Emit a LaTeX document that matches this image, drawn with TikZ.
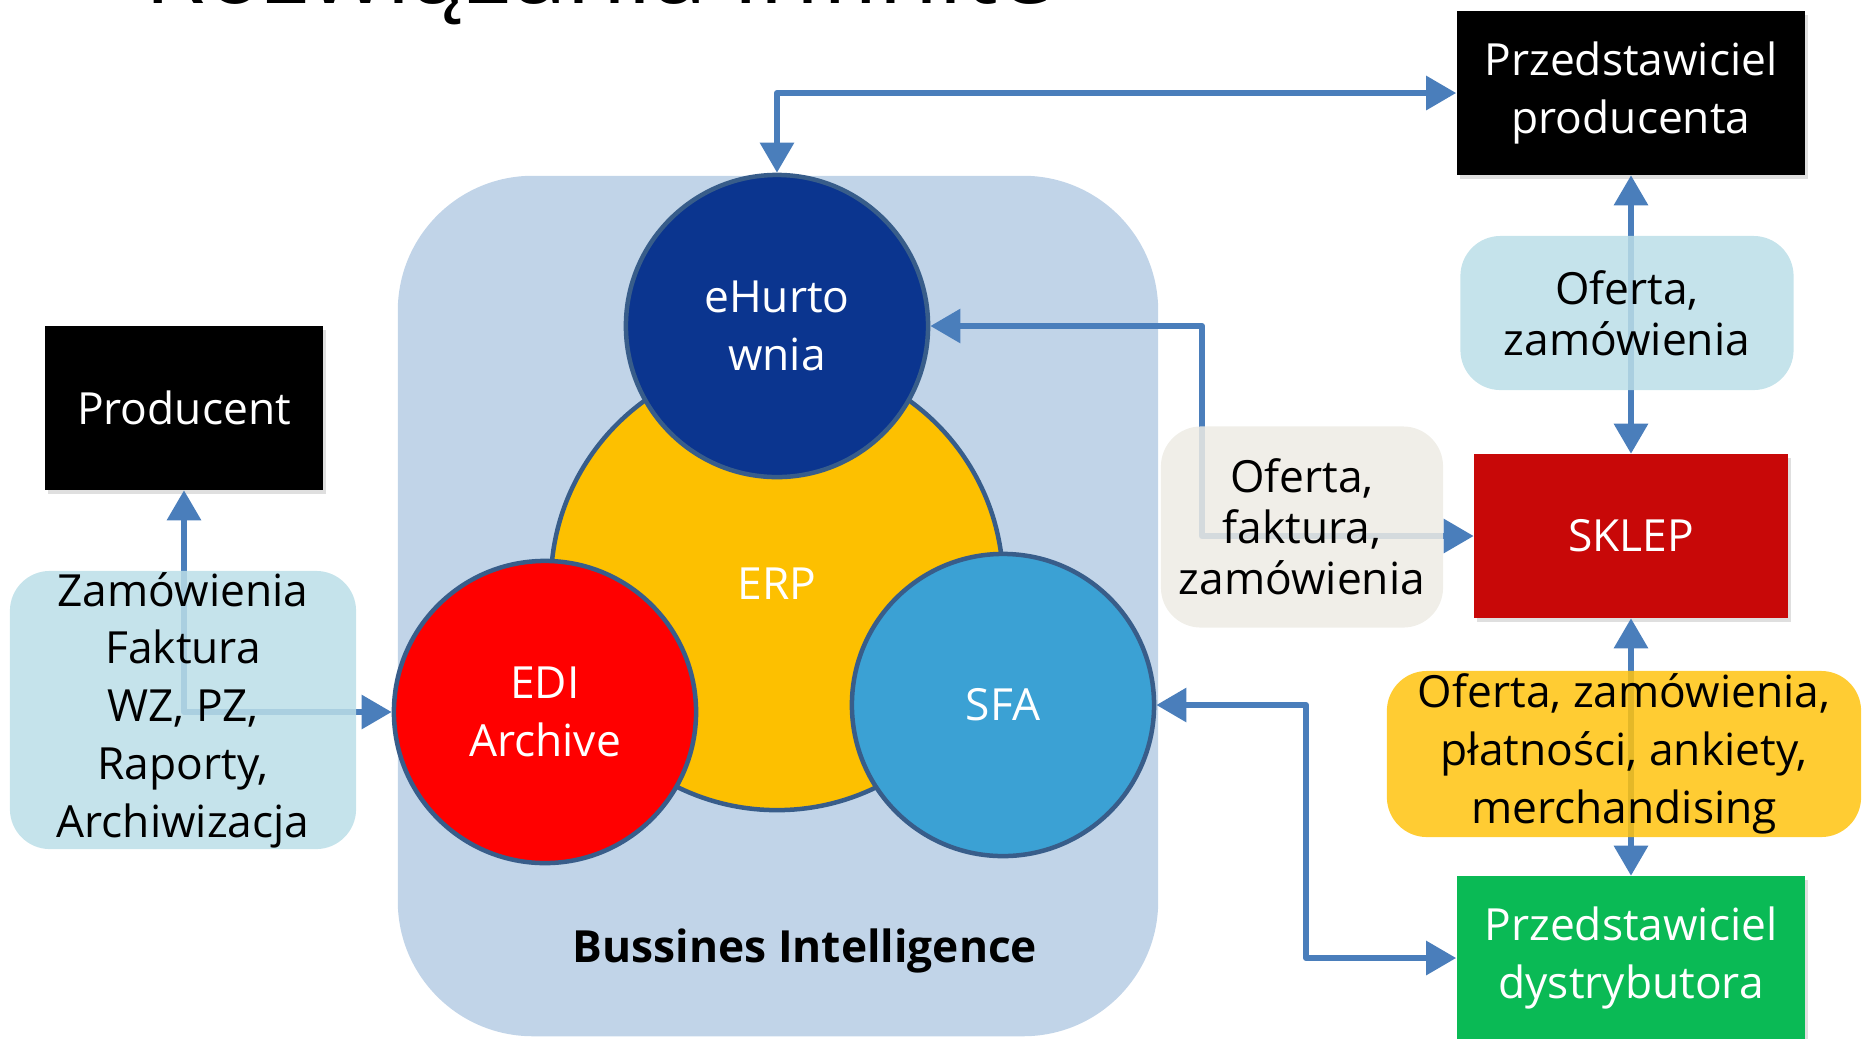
\documentclass[tikz,border=0pt]{standalone}
\usepackage{fontspec}
\setmainfont{Open Sans}
\usetikzlibrary{arrows.meta,shadows}

\definecolor{flowblue}{RGB}{74,126,187}
\definecolor{bifill}{RGB}{193,212,232}
\definecolor{ringblue}{RGB}{56,93,138}
\definecolor{ehurtblue}{RGB}{11,53,143}
\definecolor{edired}{RGB}{255,0,0}
\definecolor{sfablue}{RGB}{59,161,212}
\definecolor{erpyellow}{RGB}{253,192,0}
\definecolor{sklepred}{RGB}{200,8,8}
\definecolor{pdgreen}{RGB}{10,186,85}
\definecolor{tagblue}{RGB}{187,222,231}
\definecolor{taggrey}{RGB}{237,235,228}
\definecolor{tagyellow}{RGB}{255,195,15}

\begin{document}
\begin{tikzpicture}
  [x=0.01cm,y=-0.01cm,
   every node/.style={align=center,font=\fontsize{12.6}{16.4}\selectfont},
   actor/.style={rectangle,minimum width=3.48cm,minimum height=1.63cm,text=white,
     drop shadow={shadow xshift=0.03cm,shadow yshift=-0.04cm,opacity=0.25}},
   module/.style={circle,draw=ringblue,line width=0.045cm,minimum size=3.02cm,text=white},
   tag/.style={rectangle,rounded corners=0.4cm,inner sep=0pt,fill opacity=0.85,text opacity=1},
   flow/.style={draw=flowblue,line width=0.06cm,line join=round,
     >={Triangle[length=0.3cm,width=0.33cm]},<->}]
  \useasboundingbox (0,0) rectangle (1862,1038);
  \node[anchor=base,font=\fontsize{28}{34}\selectfont] (title) at (599,3) {Rozwiązania Infinite};

  % Bussines Intelligence
  \node[fill=bifill,rounded corners=1.35cm,minimum width=7.6cm,minimum height=8.6cm] (bi) at (778,606) {};
  \node[font=\fontsize{12.6}{16.4}\selectfont\bfseries] (bitext) at (805,951) {Bussines Intelligence};

  \node[module,fill=erpyellow,minimum size=4.52cm] (erp) at (777,584) {ERP};
  \node[module,fill=ehurtblue] (ehurt) at (777,326) {eHurto\\wnia};
  \node[module,fill=edired] (edi) at (545,712) {EDI\\Archive};
  \node[module,fill=sfablue] (sfa) at (1003,705) {SFA};

  \node[actor,fill=black,minimum width=2.78cm] (prod) at (184,408) {Producent};
  \node[actor,fill=black] (pp) at (1631,93) {Przedstawiciel\\producenta};
  \node[actor,fill=sklepred,minimum width=3.13cm] (sklep) at (1631,536) {SKLEP};
  \node[actor,fill=pdgreen] (pd) at (1631,958) {Przedstawiciel\\dystrybutora};

  \coordinate (fbend) at (1202,430);
  \coordinate (sbend) at (1306,830);
  \draw[flow] (ehurt.north) |- (pp.west);
  \draw[flow] (pp.south) -- (sklep.north);
  \draw[flow] (sklep.south) -- (pd.north);
  \draw[flow] (sklep.west) -| (fbend) |- (ehurt.east);
  \draw[flow] (sfa.east) -| (sbend) |- (pd.west);
  \draw[flow] (prod.south) |- (edi.west);

  % opisy
  \node[tag,fill=tagblue,minimum width=3.46cm,minimum height=2.78cm] (docs) at (183,710)
    {Zamówienia\\Faktura\\WZ, PZ,\\Raporty,\\Archiwizacja};
  \node[tag,fill=tagblue,minimum width=3.33cm,minimum height=1.54cm,
    font=\fontsize{12.6}{14.5}\selectfont] (offer) at (1627,313) {Oferta,\\zamówienia};
  \node[tag,fill=taggrey,minimum width=2.82cm,minimum height=2.01cm,
    font=\fontsize{12.6}{14.5}\selectfont] (invoice) at (1302,527) {Oferta,\\faktura,\\zamówienia};
  \node[tag,fill=tagyellow,minimum width=4.74cm,minimum height=1.66cm] (field) at (1624,754)
    {Oferta, zamówienia,\\płatności, ankiety,\\merchandising};
\end{tikzpicture}
\end{document}
